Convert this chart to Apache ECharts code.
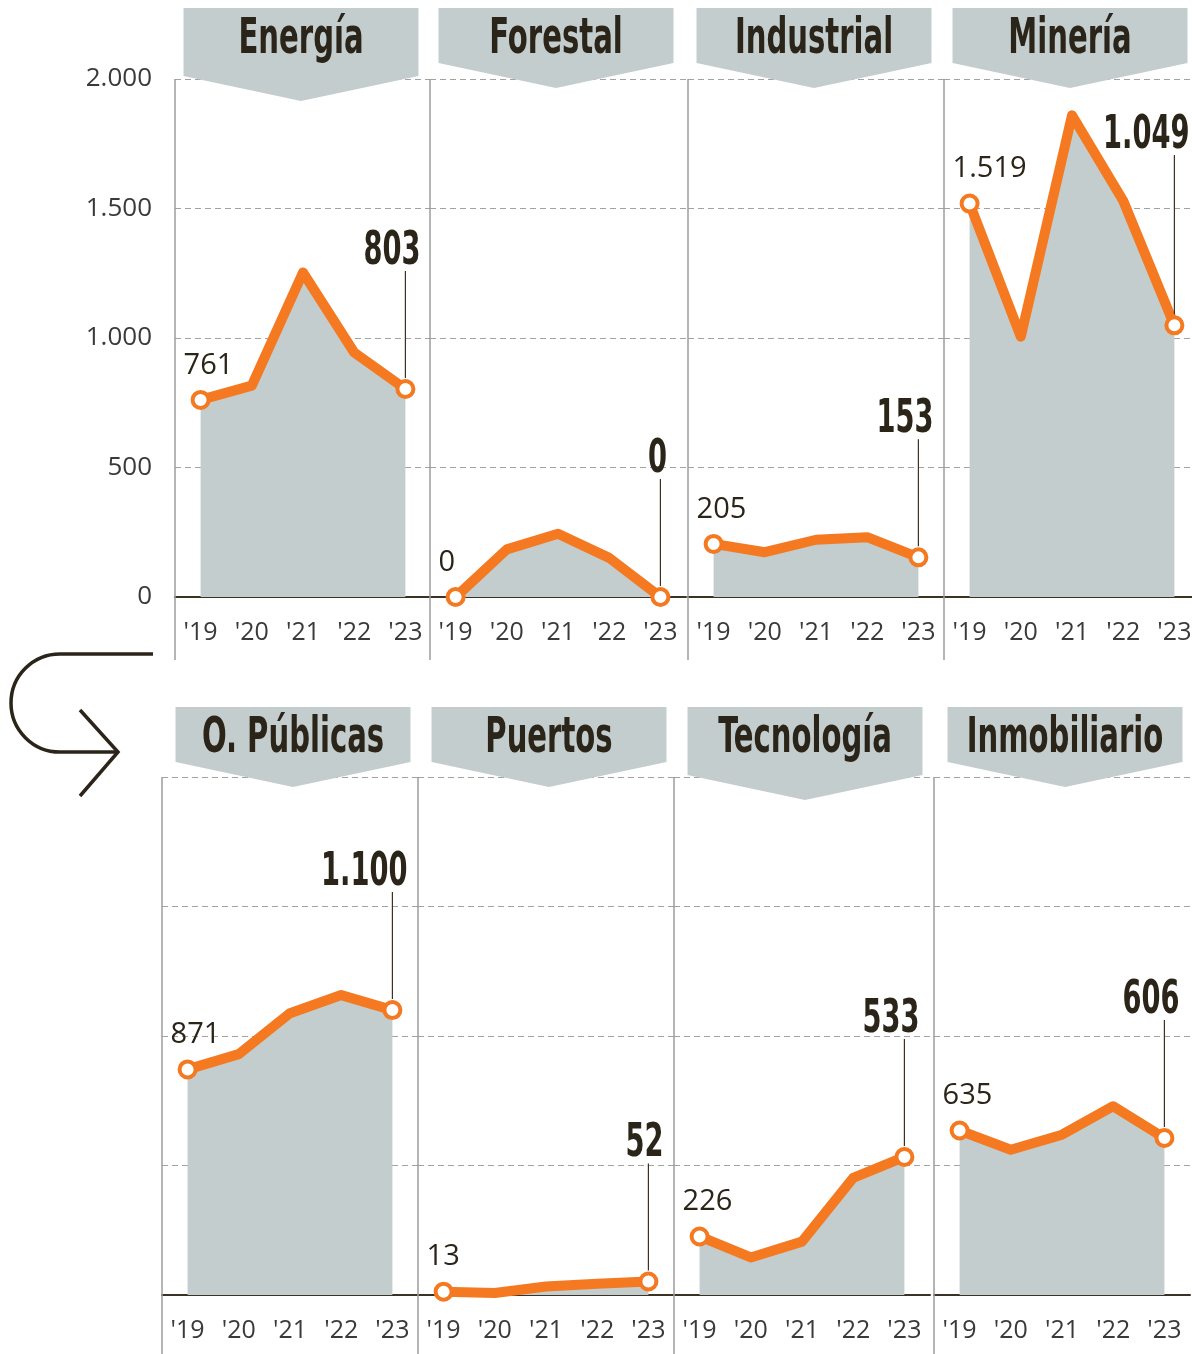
<!DOCTYPE html>
<html>
<head>
<meta charset="utf-8">
<script src="https://cdn.jsdelivr.net/npm/echarts@6/dist/echarts.min.js"></script>
<style>
  html, body { margin: 0; background: #fff; overflow: hidden; }
  #main { width: 1204px; height: 1354px; }
</style>
</head>
<body>
<div id="main"></div>
<script>
// datos (millones) por sector, 2019-2023
const years = ["'19", "'20", "'21", "'22", "'23"];
const sectors = ["Energía", "Forestal", "Industrial", "Minería", "O. Públicas", "Puertos", "Tecnología", "Inmobiliario"];
const energia = [761, 816, 1253, 944, 803];
const forestal = [0, 184, 244, 151, 0];
const industrial = [205, 173, 221, 231, 153];
const mineria = [1519, 1005, 1860, 1530, 1049];
const obrasPublicas = [871, 930, 1088, 1158, 1100];
const puertos = [13, 8, 33, 43, 52];
const tecnologia = [226, 145, 206, 452, 533];
const inmobiliario = [635, 561, 619, 729, 606];
const yTicks = [0, 500, 1000, 1500, 2000];

const panels = [energia, forestal, industrial, mineria, obrasPublicas, puertos, tecnologia, inmobiliario];

const orange = "#f47920";
const gray = "#c4cdcd";
const ink = "#2b2419";
const lefts = [175, 430, 688, 944, 162, 418, 674, 934];
const panelW = 256;
const plotH = 518;

let fmt = (v) => String(v).replace(/\B(?=(\d{3})+(?!\d))/g, ".");

let myChart = echarts.init(document.getElementById("main"), null, { renderer: "canvas" });

let grids = [], xAxes = [], yAxes = [], series = [];
panels.forEach((data, i) => {
  let top = i < 4 ? 79 : 777;
  grids.push({ left: lefts[i], top: top, width: panelW, height: plotH });
  xAxes.push({
    type: "category",
    gridIndex: i,
    data: years,
    boundaryGap: true,
    axisLine: { lineStyle: { color: "#3b3226", width: 2 } },
    axisTick: { show: false },
    axisLabel: { color: "#3a3a3a", fontFamily: "Open Sans", fontSize: 25, margin: 23 },
  });
  yAxes.push({
    type: "value",
    gridIndex: i,
    min: yTicks[0],
    max: yTicks[yTicks.length - 1],
    interval: yTicks[1] - yTicks[0],
    axisLine: { show: false },
    axisTick: { show: false },
    axisLabel: {
      show: i === 0,
      color: "#3a3a3a",
      fontFamily: "Open Sans",
      fontSize: 26,
      margin: 23,
      formatter: (v) => fmt(v),
    },
    splitLine: { lineStyle: { color: "#a3a3a3", type: [6, 4], width: 1.2 } },
  });
  series.push({
    type: "line",
    name: sectors[i],
    xAxisIndex: i,
    yAxisIndex: i,
    data: data,
    clip: false,
    symbol: (v, p) => (p.dataIndex === 0 || p.dataIndex === data.length - 1 ? "circle" : "none"),
    symbolSize: 16,
    itemStyle: { color: "#fff", borderColor: orange, borderWidth: 4 },
    lineStyle: { color: orange, width: 10, join: "round", cap: "round" },
    areaStyle: { color: gray, opacity: 1 },
    label: {
      show: true,
      position: "top",
      distance: 10,
      align: "left",
      offset: [-17, 0],
      color: ink,
      fontFamily: "Open Sans",
      fontSize: 29,
      formatter: (p) => (p.dataIndex === 0 ? fmt(p.value) : ""),
    },
  });
});

myChart.setOption({
  animation: false,
  backgroundColor: "#fff",
  grid: grids,
  xAxis: xAxes,
  yAxis: yAxes,
  series: series,
});

// elementos de adorno: separadores, cabeceras, valor final, flecha
let g = [];
lefts.forEach((x, i) => {
  let top = i < 4 ? 79 : 777;
  g.push({
    type: "line",
    z: 1,
    shape: { x1: x, y1: top, x2: x, y2: i < 4 ? 660 : 1354 },
    style: { stroke: "#9c9c9c", lineWidth: 1.5 },
  });
});

sectors.forEach((name, i) => {
  let cx = lefts[i] + panelW / 2 + (i < 4 ? -2 : 3);
  let top = i < 4 ? 8 : 707;
  let h = /g/.test(name) ? 68 : 55;
  let hw = 117.5;
  g.push({
    type: "polygon",
    z: 100,
    shape: { points: [[cx - hw, top], [cx + hw, top], [cx + hw, top + h], [cx, top + h + 25], [cx - hw, top + h]] },
    style: { fill: gray },
  });
  g.push({
    type: "text",
    z: 101,
    x: cx,
    y: top + 32,
    scaleX: 0.66,
    style: {
      text: name,
      font: 'bold 49px "DejaVu Sans Condensed"',
      fill: ink,
      align: "center",
      verticalAlign: "middle",
      textAlign: "center",
      textVerticalAlign: "middle",
    },
  });
});

panels.forEach((data, i) => {
  let pts = data.map((v, k) => myChart.convertToPixel({ seriesIndex: i }, [k, v]));
  let last = pts[pts.length - 1];
  let px = last[0], py = last[1];
  let txt = fmt(data[data.length - 1]);
  let w = txt.replace(/\./g, "").length * 19 + (txt.split(".").length - 1) * 8;
  let right = px + Math.min(15, w / 2 - 3), left = right - w;
  // que el valor no pise la línea
  let minY = py;
  for (let x = left; x <= right; x += 2) {
    for (let k = 0; k < pts.length - 1; k++) {
      let a = pts[k], b = pts[k + 1];
      if (x >= a[0] && x <= b[0]) {
        let y = a[1] + ((x - a[0]) / (b[0] - a[0])) * (b[1] - a[1]);
        minY = Math.min(minY, y);
      }
    }
  }
  let base = Math.min(py - 124, minY - 22);
  g.push({
    type: "text",
    z: 20,
    x: right,
    y: base - 13,
    scaleX: 0.66,
    style: {
      text: txt,
      font: 'bold 46px "DejaVu Sans Condensed"',
      fill: ink,
      align: "right",
      verticalAlign: "middle",
      textAlign: "right",
      textVerticalAlign: "middle",
    },
  });
  g.push({
    type: "line",
    z: 20,
    shape: { x1: px, y1: base + 6, x2: px, y2: py - 11 },
    style: { stroke: "#3b3226", lineWidth: 1.2 },
  });
});

// flecha de cambio de fila
let arrowStyle = { fill: null, stroke: ink, lineWidth: 3.5 };
g.push({ type: "polyline", z: 20, shape: { points: [[153, 654], [60, 654]] }, style: arrowStyle });
g.push({
  type: "arc",
  z: 20,
  shape: { cx: 60, cy: 703, r: 49, startAngle: Math.PI / 2, endAngle: (3 * Math.PI) / 2, clockwise: true },
  style: arrowStyle,
});
g.push({ type: "polyline", z: 20, shape: { points: [[60, 752], [118, 752]] }, style: arrowStyle });
g.push({ type: "polyline", z: 20, shape: { points: [[80, 710], [118, 752], [80, 796]] }, style: arrowStyle });

myChart.setOption({ graphic: g });
</script>
</body>
</html>
